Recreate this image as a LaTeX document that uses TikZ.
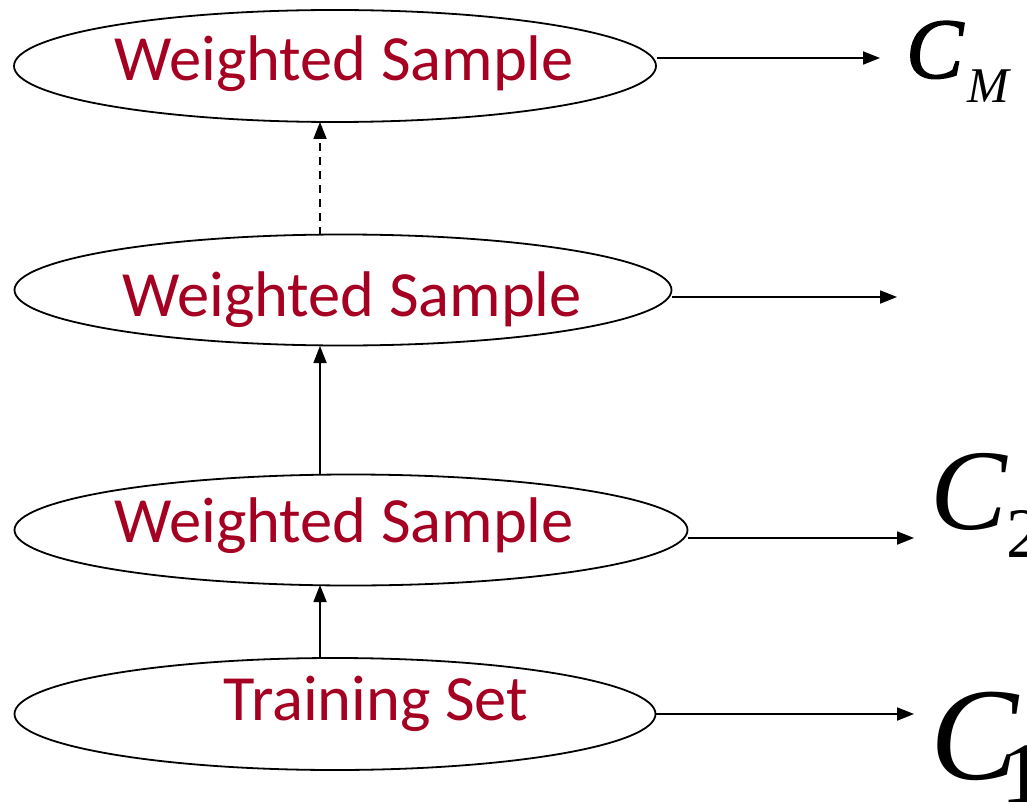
\documentclass[tikz,border=0pt]{standalone}
\usepackage{fontspec}
\setmainfont{Carlito}
\newfontfamily\timesfont{Liberation Serif}
\newfontfamily\timesheavy[ItalicFeatures={FakeBold=1.6}]{Liberation Serif}
\usetikzlibrary{shapes.geometric,arrows.meta}
\definecolor{wred}{RGB}{165,0,33}
\tikzset{
  oval/.style={draw=black, line width=1.8pt, ellipse, inner sep=0pt, fill=white},
  lbl/.style={text=wred, font=\fontsize{64.5}{70}\selectfont, anchor=center},
  conn/.style={line width=1.8pt, -{Triangle[length=17pt,width=13pt]}},
  clabel/.style={anchor=base west, inner sep=0pt, outer sep=0pt}
}
\newcommand{\clab}[6]{% C font, C size, dx, dy, sub size, sub text
  \makebox[0pt][l]{#1\fontsize{#2}{#2}\selectfont C}%
  \hspace*{#3}\raisebox{-#4}{\timesfont\fontsize{#5}{#5}\selectfont #6}}
\begin{document}
\begin{tikzpicture}[x=1pt,y=-1pt]
\useasboundingbox (0,0) rectangle (1027,805);
\clip (0,0) rectangle (1027,805);
\fill[white] (0,0) rectangle (1027,805);
% ellipses
\node[oval, minimum width=642pt, minimum height=112pt] (e1) at (335,66) {};
\node[oval, minimum width=657pt, minimum height=111pt] (e2) at (343,290) {};
\node[oval, minimum width=673pt, minimum height=111pt] (e3) at (351,530) {};
\node[oval, minimum width=641pt, minimum height=112pt] (e4) at (335,714) {};
% texts
\node[lbl] (t1) at (344,64) {Weighted Sample};
\node[lbl] (t2) at (352,300) {Weighted Sample};
\node[lbl] (t3) at (344,526) {Weighted Sample};
\node[lbl] (t4) at (376,704) {Training Set};
% vertical connectors
\coordinate (v1a) at (320,122);
\coordinate (v1b) at (320,235);
\coordinate (v2a) at (320,346);
\coordinate (v2b) at (320,474);
\coordinate (v3a) at (320,585);
\coordinate (v3b) at (320,658);
\draw[conn, dashed, dash pattern=on 8pt off 6pt] (v1b) -- (v1a);
\draw[conn] (v2b) -- (v2a);
\draw[conn] (v3b) -- (v3a);
% horizontal connectors
\coordinate (h1) at (880,58);
\coordinate (h2) at (897,297);
\coordinate (h3) at (914,538);
\coordinate (h4) at (914,714);
\draw[conn] (e1.east |- h1) -- (h1);
\draw[conn] (e2.east |- h2) -- (h2);
\draw[conn] (e3.east |- h3) -- (h3);
\draw[conn] (e4.east |- h4) -- (h4);
% classifier labels
\node[clabel] (cm) at (906,78) {\clab{\timesheavy\itshape}{86}{61pt}{25pt}{50}{\itshape M}};
\node[clabel] (c2) at (930,529) {\clab{\timesfont\itshape}{115}{76pt}{28pt}{71}{2}};
\node[clabel] (c1) at (930,779) {\clab{\timesfont\itshape}{132}{71pt}{23pt}{86}{1}};
\end{tikzpicture}
\end{document}
